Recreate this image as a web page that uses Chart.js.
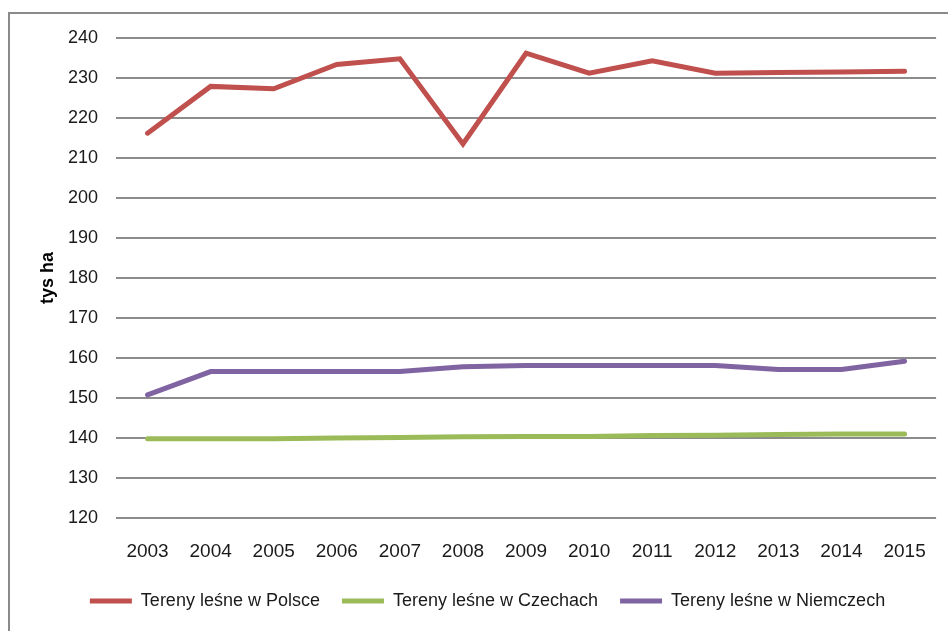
<!DOCTYPE html>
<html>
<head>
<meta charset="utf-8">
<script src="https://cdn.jsdelivr.net/npm/chart.js@4.4.1/dist/chart.umd.min.js"></script>
<style>
  html, body { margin: 0; padding: 0; background: #ffffff; }
  #wrap { width: 948px; height: 631px; position: relative; }
</style>
</head>
<body>
<div id="wrap"><canvas id="c" width="948" height="631"></canvas></div>
<script>
const years = ["2003","2004","2005","2006","2007","2008","2009","2010","2011","2012","2013","2014","2015"];
const polska = [216.2, 227.9, 227.3, 233.4, 234.8, 213.5, 236.2, 231.2, 234.3, 231.2, 231.4, 231.5, 231.7];
const czechy = [139.8, 139.8, 139.8, 140.0, 140.1, 140.3, 140.4, 140.4, 140.6, 140.7, 140.9, 141.0, 141.0];
const niemcy = [150.8, 156.6, 156.6, 156.6, 156.6, 157.8, 158.1, 158.1, 158.1, 158.1, 157.1, 157.1, 159.2];
const seriesNames = ["Tereny leśne w Polsce", "Tereny leśne w Czechach", "Tereny leśne w Niemczech"];
const yTitle = "tys ha";

const FONT = "'Liberation Sans', Arial, sans-serif";

const framePlugin = {
  id: 'frame',
  beforeDraw(chart) {
    const ctx = chart.ctx;
    ctx.save();
    ctx.fillStyle = '#ffffff';
    ctx.fillRect(0, 0, chart.width, chart.height);
    ctx.strokeStyle = '#8a8a8a';
    ctx.lineWidth = 2;
    ctx.strokeRect(9, 13, 980, 700);
    ctx.restore();
  }
};

function ds(label, data, color) {
  return {
    label, data,
    borderColor: color, backgroundColor: color,
    borderWidth: 5, pointRadius: 0, pointHoverRadius: 0,
    tension: 0, fill: false, borderCapStyle: 'round', borderJoinStyle: 'miter'
  };
}

new Chart(document.getElementById('c'), {
  type: 'line',
  data: {
    labels: years,
    datasets: [
      ds(seriesNames[0], polska, '#C0504D'),
      ds(seriesNames[1], czechy, '#9BBB59'),
      ds(seriesNames[2], niemcy, '#8064A2')
    ]
  },
  plugins: [framePlugin],
  options: {
    responsive: false,
    animation: false,
    events: [],
    layout: { padding: { top: 38, right: 8, left: 35, bottom: 11 } },
    plugins: {
      tooltip: { enabled: false },
      legend: {
        position: 'bottom',
        labels: {
          boxWidth: 42, boxHeight: 5, padding: 22,
          color: '#1a1a1a',
          font: { family: FONT, size: 18 },
          generateLabels(chart) {
            const items = Chart.defaults.plugins.legend.labels.generateLabels(chart);
            items.forEach(i => { i.lineWidth = 0; });
            return items;
          }
        }
      }
    },
    scales: {
      x: {
        offset: true,
        grid: { display: false, drawTicks: false },
        border: { display: false },
        ticks: { color: '#1a1a1a', font: { family: FONT, size: 19 }, padding: 22, maxRotation: 0, autoSkip: false },
        afterFit(scale) { scale.height = 52; }
      },
      y: {
        min: 120, max: 240,
        grid: { color: '#8c8c8c', lineWidth: 2, drawTicks: false },
        border: { display: false },
        ticks: { stepSize: 10, color: '#1a1a1a', font: { family: FONT, size: 18 }, padding: 18 },
        title: { display: true, text: yTitle, color: '#000000', font: { family: FONT, size: 18, weight: 'bold' }, padding: { top: 2, bottom: 0 } },
        afterFit(scale) { scale.width = 81; }
      }
    }
  }
});
</script>
</body>
</html>
